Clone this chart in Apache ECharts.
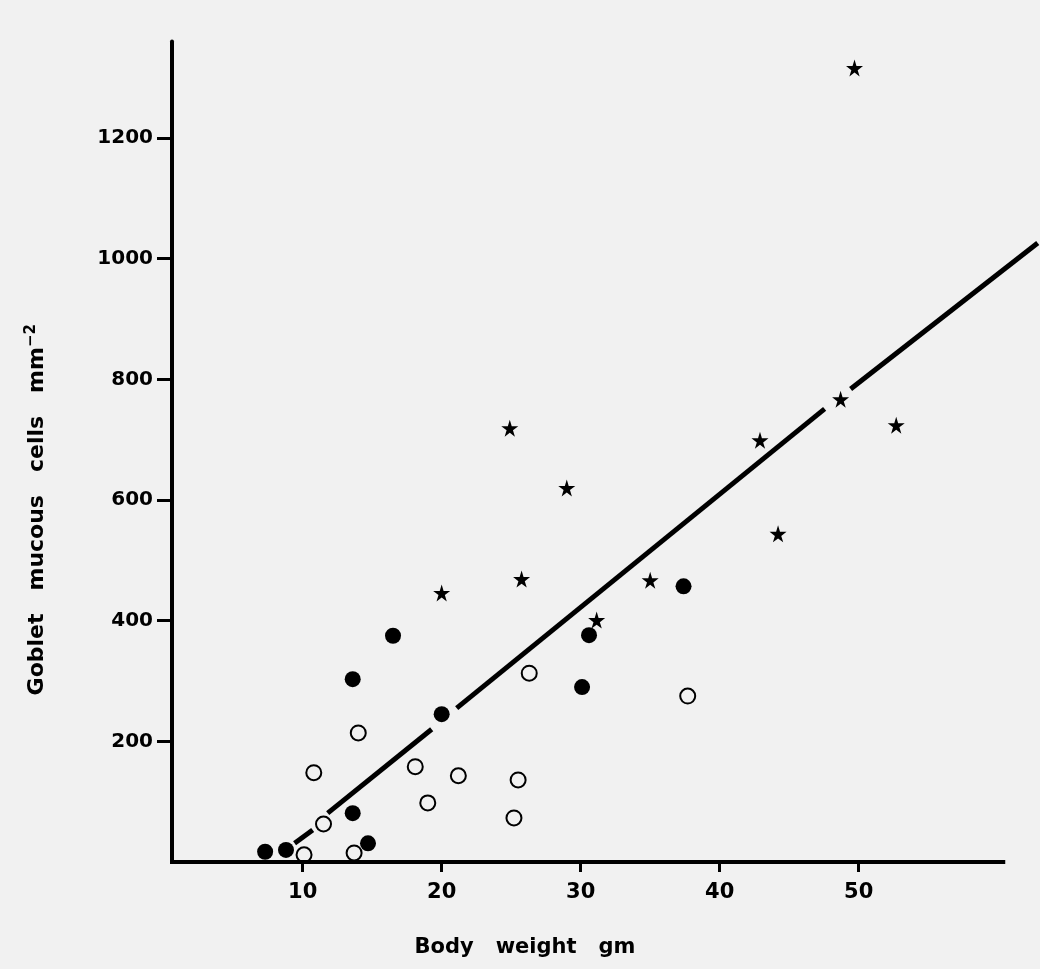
<!DOCTYPE html>
<html>
<head>
<meta charset="utf-8">
<script src="https://cdn.jsdelivr.net/npm/echarts@6/dist/echarts.min.js"></script>
<style>
html,body{margin:0;padding:0;background:#f1f1f1;}
#chart{width:1040px;height:969px;}
</style>
</head>
<body>
<div id="chart"></div>
<script>
// Tick labels
const xTicks = [10, 20, 30, 40, 50];
const yTicks = [200, 400, 600, 800, 1000, 1200];

// Filled circles [body weight, goblet cells]
const filledPoints = [
  [7.3, 17], [8.8, 20], [14.7, 31], [13.6, 81], [13.6, 303],
  [16.5, 375], [20.0, 245], [30.1, 290], [30.6, 376], [37.4, 457]
];
// Open circles
const openPoints = [
  [10.1, 12], [11.5, 63], [10.8, 148], [14.0, 214], [13.7, 15],
  [18.1, 158], [19.0, 98], [21.2, 143], [25.5, 136], [25.2, 73],
  [26.3, 313], [37.7, 275]
];
// Stars
const starPoints = [
  [49.7, 1316], [24.9, 719], [29.0, 620], [20.0, 446], [25.75, 469],
  [31.15, 401], [35.0, 467], [42.9, 699], [48.7, 767], [52.7, 724],
  [44.2, 544]
];
// Regression line segments (drawn with gaps as in the original)
const fitSeg1 = [[9.42, 31], [10.72, 53]];
const fitSeg2 = [[11.8, 81], [19.28, 220]];
const fitSeg3 = [[21.08, 255], [47.55, 751]];
const fitSeg4 = [[49.42, 784], [62.88, 1026]];
// Drawn extent of the x axis line
const xAxisLineRange = [0.6, 60.4];

const tickFont = {fontFamily: 'DejaVu Sans', fontWeight: 'bold', color: '#000'};
const STAR = 'path://M50,0 L61,35 L98,35 L68,57 L79,91 L50,70 L21,91 L32,57 L2,35 L39,35 Z';

const chart = echarts.init(document.getElementById('chart'), null, {renderer: 'canvas'});

function segSeries(data) {
  return {
    type: 'line', data: data, symbol: 'none', clip: false, silent: true, z: 1,
    lineStyle: {color: '#000', width: 5, cap: 'butt'}
  };
}

chart.setOption({
  backgroundColor: '#f1f1f1',
  animation: false,
  grid: {left: 172, right: 2, top: 41.5, bottom: 107, containLabel: false},
  xAxis: {
    type: 'value', min: 0.6, max: 62.9,
    name: 'Body   weight   gm', nameLocation: 'middle', nameGap: 75,
    nameTextStyle: {fontFamily: 'DejaVu Sans', fontWeight: 'bold', fontSize: 21, color: '#000', padding: [0, 160, 0, 0]},
    axisLine: {show: false},
    axisTick: {show: true, customValues: xTicks, length: 10, lineStyle: {color: '#000', width: 3}},
    axisLabel: Object.assign({customValues: xTicks, fontSize: 21, margin: 20}, tickFont),
    splitLine: {show: false}
  },
  yAxis: {
    type: 'value', min: 0, max: 1360,
    name: 'Goblet   mucous   cells   mm{sup|−2}', nameLocation: 'middle', nameGap: 121,
    nameTextStyle: {
      fontFamily: 'DejaVu Sans', fontWeight: 'bold', fontSize: 22, color: '#000',
      padding: [0, 116, 0, 0],
      rich: {sup: {fontFamily: 'DejaVu Sans', fontWeight: 'bold', fontSize: 15, color: '#000', verticalAlign: 'top', padding: [0, 0, 12, 0]}}
    },
    axisLine: {show: true, onZero: false, lineStyle: {color: '#000', width: 4}},
    axisTick: {show: true, customValues: yTicks, length: 15, lineStyle: {color: '#000', width: 3}},
    axisLabel: Object.assign({customValues: yTicks, fontSize: 20, margin: 19, formatter: function (v) { return String(v); }}, tickFont),
    splitLine: {show: false}
  },
  series: [
    {type: 'line', data: [], silent: true,
     markLine: {silent: true, symbol: 'none', label: {show: false},
       lineStyle: {color: '#000', width: 4, type: 'solid', cap: 'square'},
       data: [[{coord: [xAxisLineRange[0], 0]}, {coord: [xAxisLineRange[1], 0]}]]}},
    segSeries(fitSeg1), segSeries(fitSeg2), segSeries(fitSeg3), segSeries(fitSeg4),
    {type: 'scatter', data: filledPoints, symbol: 'circle', symbolSize: 16, z: 3,
     itemStyle: {color: '#000', opacity: 1}},
    {type: 'scatter', data: openPoints, symbol: 'circle', symbolSize: 15, z: 3,
     itemStyle: {color: '#f1f1f1', borderColor: '#000', borderWidth: 2, opacity: 1}},
    {type: 'scatter', data: starPoints, symbol: STAR, symbolSize: 17, z: 3,
     itemStyle: {color: '#000', opacity: 1}}
  ]
});
</script>
</body>
</html>
